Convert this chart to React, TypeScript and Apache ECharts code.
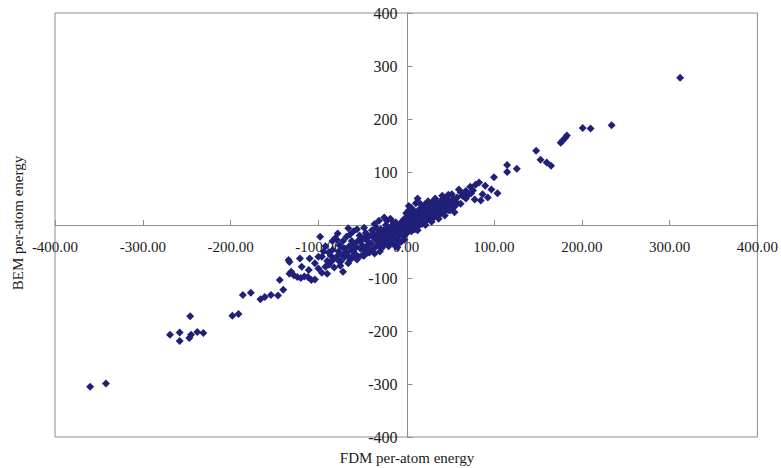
import React, { useEffect, useRef } from "react";
import * as echarts from "echarts";

const xTicks = [-400, -300, -200, -100, 0, 100, 200, 300, 400];
const yTicks = [-400, -300, -200, -100, 0, 100, 200, 300, 400];
const xTitle = "FDM per-atom energy";
const yTitle = "BEM per-atom energy";

// [FDM, BEM] pairs
const lowTail: number[][] = [
  [-360, -305], [-342, -299], [-269, -207], [-258, -203], [-258, -219], [-246, -172],
  [-247, -213], [-245, -207], [-238, -202], [-231, -204], [-198, -171], [-191, -168],
  [-186, -132], [-177, -128], [-166, -140], [-161, -136], [-154, -132], [-146, -133],
  [-144, -104], [-140, -122],
];

const midLeft: number[][] = [
  [-133, -70], [-134, -66], [-131, -88], [-133, -92], [-128, -95], [-124, -98], [-120, -100],
  [-116, -97], [-112, -98], [-108, -104], [-104, -103], [-121, -63], [-119, -79], [-111, -85],
  [-110, -63], [-104, -72], [-100, -82], [-98, -22], [-96, -60], [-92, -79], [-90, -68],
  [-88, -75], [-86, -58], [-84, -47], [-83, -65], [-80, -62], [-81, -25], [-79, -28],
  [-78, -16], [-77, -50], [-76, -69], [-74, -55], [-72, -88], [-71, -44], [-70, -60],
  [-68, -52], [-66, -6], [-65, -40], [-64, -66], [-62, -48], [-60, -35], [-58, -55],
  [-57, -42], [-55, -30], [-54, -60], [-52, -45], [-50, -38], [-50, -57], [-48, -25],
  [-47, -48], [-45, -40], [-44, -30], [-42, -52], [-40, -35], [-38, -22], [-37, -45],
  [-36, -54], [-35, -28], [-33, -38], [-32, -15], [-31, 8], [-30, -30], [-28, -20],
  [-27, -40], [-25, 14], [-25, -25], [-24, -12], [-22, -32], [-21, -18], [-20, -5],
  [-19, -28], [-18, -10], [-17, -22], [-16, -2], [-15, -35], [-14, -15], [-13, -8],
  [-12, 5], [-11, -25], [-10, -12], [-9, -3], [-8, -18], [-7, 2], [-6, -8], [-5, -20],
  [-4, 8], [-3, -5], [-2, 12], [-1, -10], [-62, -30], [-58, -40], [-53, -20], [-46, -15],
  [-43, -22], [-39, -10], [-34, -5], [-29, -8], [-26, -32], [-23, 0], [-20, -40],
  [-18, -30], [-14, -25], [-12, -40], [-9, -30], [-7, -14], [-5, 0], [-3, -22], [-70, -45],
  [-66, -58], [-60, -50], [-56, -65], [-48, -58], [-44, -44], [-40, -48], [-36, -18],
  [-32, -26], [-28, -44], [-24, -36], [-94, -50], [-86, -70], [-82, -80], [-75, -77],
  [-92, -40], [-88, -52], [-84, -30], [-76, -38], [-72, -30], [-68, -22], [-64, -18],
  [-60, -12], [-56, -8], [-52, -30], [-48, -5], [-44, -52], [-40, -20], [-36, 2],
  [-30, -50], [-26, -10], [-22, 8], [-18, 12], [-14, 4], [-10, -42], [-6, -32], [-2, -28],
  [-100, -60], [-96, -90], [-90, -92], [-78, -58], [-74, -68], [-66, -72], [-62, -62],
];

const midRight: number[][] = [
  [0, 3], [1, -15], [2, 15], [3, -4], [3, 28], [4, 8], [5, -8], [6, 20], [7, 2], [8, 12],
  [9, -2], [10, 25], [11, 41], [12, 6], [13, 50], [14, 18], [15, 0], [16, 30], [17, 10],
  [18, 22], [19, 5], [20, 35], [21, 15], [22, 28], [23, 8], [24, 38], [25, 20], [26, 12],
  [27, 32], [28, 25], [29, 18], [30, 28], [31, 40], [32, 15], [33, 30], [34, 22], [35, 42],
  [36, 35], [37, 26], [38, 20], [39, 44], [40, 36], [41, 30], [42, 48], [43, 25], [44, 40],
  [45, 50], [46, 33], [47, 45], [48, 57], [49, 38], [50, 28], [52, 42], [54, 50], [55, 35],
  [56, 45], [58, 52], [1, 8], [2, -6], [4, 18], [5, 2], [6, -12], [8, 24], [9, 6], [11, 14],
  [12, -4], [14, 28], [15, 10], [17, 20], [18, 2], [20, 14], [22, 40], [24, 26], [26, 34],
  [28, 12], [30, 44], [32, 24], [34, 36], [36, 20], [38, 30], [40, 46], [44, 30], [46, 52],
  [50, 44], [53, 32], [0, 22], [3, 36], [6, 32], [10, -8], [13, -10], [16, 40], [19, 30],
  [22, 0], [25, 45], [29, 6], [33, 50], [37, 12], [41, 55], [44, 18], [48, 28], [52, 58],
  [55, 24], [58, 40],
];

const highTail: number[][] = [
  [60, 67], [62, 40], [64, 55], [66, 60], [68, 50], [71, 57], [73, 72], [76, 65], [79, 76],
  [83, 80], [85, 46], [87, 58], [90, 74], [93, 52], [97, 67], [100, 90], [104, 60],
  [115, 113], [115, 100], [126, 106], [148, 140], [153, 123], [160, 118], [165, 112],
  [176, 155], [178, 159], [181, 164], [183, 169], [201, 183], [210, 182], [234, 188],
  [312, 278], [62, 62], [68, 64], [74, 60], [78, 48],
];

const allPoints = [...lowTail, ...midLeft, ...midRight, ...highTail];

export default function App() {
  const ref = useRef<HTMLDivElement>(null);
  useEffect(() => {
    if (!ref.current) return;
    const chart = echarts.init(ref.current, undefined, { renderer: "svg" });
    const font = "'Liberation Serif', serif";
    const axisGray = "#8e8e8e";
    const gridLeft = 55;
    const gridRight = 21;
    const gridTop = 13;
    const gridBottom = 31;
    const gridW = 781 - gridLeft - gridRight;
    const gridH = 468 - gridTop - gridBottom;
    chart.setOption({
      animation: false,
      backgroundColor: "#ffffff",
      textStyle: { fontFamily: font },
      grid: {
        left: gridLeft,
        right: gridRight,
        top: gridTop,
        bottom: gridBottom,
        show: true,
        borderColor: axisGray,
        borderWidth: 1,
        backgroundColor: "transparent",
      },
      xAxis: {
        type: "value",
        position: "bottom",
        offset: -gridH / 2,
        min: xTicks[0],
        max: xTicks[xTicks.length - 1],
        interval: 100,
        axisLine: { onZero: false, lineStyle: { color: axisGray, width: 1 } },
        axisTick: { show: true, inside: true, length: 5, lineStyle: { color: axisGray } },
        splitLine: { show: false },
        axisLabel: {
          margin: 14,
          fontFamily: font,
          fontSize: 15,
          color: "#1a1a1a",
          showMinLabel: true,
          showMaxLabel: true,
          formatter: (v: number) => v.toFixed(2),
        },
      },
      yAxis: {
        type: "value",
        position: "left",
        offset: -gridW / 2,
        min: yTicks[0],
        max: yTicks[yTicks.length - 1],
        interval: 100,
        axisLine: { onZero: false, lineStyle: { color: axisGray, width: 1 } },
        axisTick: { show: true, inside: true, length: 5, lineStyle: { color: axisGray } },
        splitLine: { show: false },
        axisLabel: {
          margin: 10,
          fontFamily: font,
          fontSize: 16,
          color: "#1a1a1a",
          showMinLabel: true,
          showMaxLabel: true,
          formatter: (v: number) => String(v),
        },
      },
      graphic: [
        {
          type: "text",
          x: 407,
          y: 458,
          style: {
            text: xTitle,
            fontFamily: font,
            fontSize: 15,
            fill: "#1a1a1a",
            textAlign: "center",
            textVerticalAlign: "middle",
          },
        },
        {
          type: "text",
          x: 18,
          y: 223,
          rotation: Math.PI / 2,
          style: {
            text: yTitle,
            fontFamily: font,
            fontSize: 15,
            fill: "#1a1a1a",
            textAlign: "center",
            textVerticalAlign: "middle",
          },
        },
      ],
      series: [
        {
          type: "scatter",
          data: allPoints,
          symbol: "diamond",
          symbolSize: 8,
          itemStyle: { color: "#20207a", opacity: 1 },
          z: 1,
        },
      ],
    });
    return () => chart.dispose();
  }, []);
  return (
    <div
      ref={ref}
      style={{ position: "fixed", left: 0, top: 0, width: 781, height: 468, background: "#fff" }}
    />
  );
}
